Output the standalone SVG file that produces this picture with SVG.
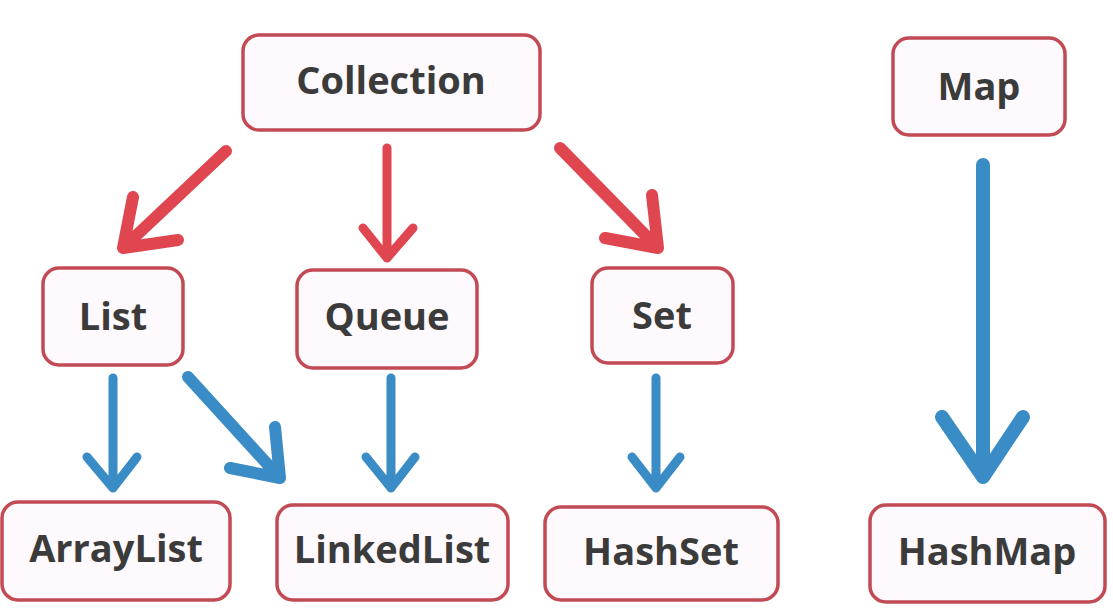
<svg xmlns="http://www.w3.org/2000/svg" width="1113" height="614" viewBox="0 0 1113 614">
<defs>
<filter id="soft" x="-5%" y="-5%" width="110%" height="110%"><feGaussianBlur stdDeviation="0.8"/></filter>
<style>
.box{fill:#fdf9fc;stroke:#c24a54;stroke-width:3.5}
.lbl{font-family:"Open Sans","Noto Sans","Liberation Sans",sans-serif;font-weight:bold;font-size:38px;fill:#3b3b3b;text-anchor:middle}
.red{fill:none;stroke:#e0464f;stroke-linecap:round;stroke-linejoin:round}
.blue{fill:none;stroke:#3a8cc6;stroke-linecap:round;stroke-linejoin:round}
</style>
</defs>
<rect width="1113" height="614" fill="#ffffff"/>
<g id="connectors">
<path class="red" stroke-width="12" d="M226,151 L123,248 M133,197 L123,248 L178,240"/>
<path class="red" stroke-width="9" d="M387,148 L387,258 M363,228 L387,258 L413,228"/>
<path class="red" stroke-width="12" d="M560,148 L658,248 M652,195 L658,248 L605,238"/>
<path class="blue" stroke-width="9" d="M113,378 L113,488 M87,457 L113,488 L137,457"/>
<path class="blue" stroke-width="12" d="M188,377 L280,478 M275,427 L280,478 L230,468"/>
<path class="blue" stroke-width="9" d="M391,378 L391,488 M366,457 L391,488 L415,457"/>
<path class="blue" stroke-width="9" d="M656,378 L656,488 M632,457 L656,488 L680,457"/>
<path class="blue" stroke-width="14" d="M983,165 L983,477 M942,417 L983,477 L1023,417"/>
</g>
<g id="collection"><rect class="box" x="243" y="35" width="297" height="95" rx="16"/><text class="lbl" x="391" y="94">Collection</text></g>
<g id="list"><rect class="box" x="43" y="268" width="140" height="97" rx="16"/><text class="lbl" x="113" y="330">List</text></g>
<g id="queue"><rect class="box" x="297" y="270" width="180" height="98" rx="16"/><text class="lbl" x="387" y="330">Queue</text></g>
<g id="set"><rect class="box" x="592" y="268" width="141" height="95" rx="16"/><text class="lbl" x="662" y="329">Set</text></g>
<g id="map"><rect class="box" x="893" y="38" width="172" height="97" rx="16"/><text class="lbl" x="979" y="100">Map</text></g>
<g id="arraylist"><rect class="box" x="2" y="502" width="228" height="98" rx="16"/><text class="lbl" x="116" y="562">ArrayList</text></g>
<g id="linkedlist"><rect class="box" x="277" y="505" width="231" height="95" rx="16"/><text class="lbl" x="392" y="563">LinkedList</text></g>
<g id="hashset"><rect class="box" x="545" y="507" width="233" height="93" rx="16"/><text class="lbl" x="661" y="565">HashSet</text></g>
<g id="hashmap"><rect class="box" x="870" y="505" width="235" height="97" rx="16"/><text class="lbl" x="987" y="565">HashMap</text></g>
</svg>
